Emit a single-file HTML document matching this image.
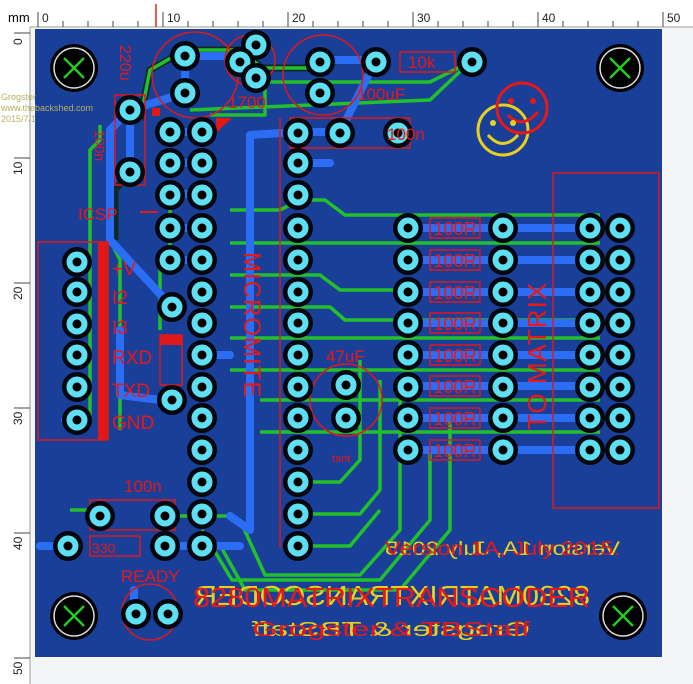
<!DOCTYPE html>
<html><head><style>
html,body{margin:0;padding:0;background:#f4f5f7;}
svg{display:block;font-family:"Liberation Sans",sans-serif;}
</style></head><body>
<svg width="693" height="684" viewBox="0 0 693 684" xmlns="http://www.w3.org/2000/svg">
<rect width="693" height="684" fill="#f4f5f7"/>
<rect x="0" y="0" width="693" height="28" fill="#fff"/>
<rect x="0" y="0" width="30" height="684" fill="#fff"/>
<line x1="30" y1="27" x2="693" y2="27" stroke="#999"/>
<line x1="30" y1="27" x2="30" y2="684" stroke="#999"/>
<text x="8" y="22" font-size="13">mm</text>
<g stroke="#444" stroke-width="1">
<line x1="38" y1="12" x2="38" y2="27"/><line x1="163" y1="12" x2="163" y2="27"/><line x1="288" y1="12" x2="288" y2="27"/><line x1="413" y1="12" x2="413" y2="27"/><line x1="538" y1="12" x2="538" y2="27"/><line x1="663" y1="12" x2="663" y2="27"/>
<line x1="63" y1="21" x2="63" y2="27"/><line x1="88" y1="21" x2="88" y2="27"/><line x1="113" y1="21" x2="113" y2="27"/><line x1="138" y1="21" x2="138" y2="27"/><line x1="188" y1="21" x2="188" y2="27"/><line x1="213" y1="21" x2="213" y2="27"/><line x1="238" y1="21" x2="238" y2="27"/><line x1="263" y1="21" x2="263" y2="27"/><line x1="313" y1="21" x2="313" y2="27"/><line x1="338" y1="21" x2="338" y2="27"/><line x1="363" y1="21" x2="363" y2="27"/><line x1="388" y1="21" x2="388" y2="27"/><line x1="438" y1="21" x2="438" y2="27"/><line x1="463" y1="21" x2="463" y2="27"/><line x1="488" y1="21" x2="488" y2="27"/><line x1="513" y1="21" x2="513" y2="27"/><line x1="563" y1="21" x2="563" y2="27"/><line x1="588" y1="21" x2="588" y2="27"/><line x1="613" y1="21" x2="613" y2="27"/><line x1="638" y1="21" x2="638" y2="27"/>
<line x1="14" y1="33" x2="30" y2="33"/><line x1="14" y1="158" x2="30" y2="158"/><line x1="14" y1="283" x2="30" y2="283"/><line x1="14" y1="408" x2="30" y2="408"/><line x1="14" y1="533" x2="30" y2="533"/><line x1="14" y1="658" x2="30" y2="658"/>
</g>
<line x1="156" y1="4" x2="156" y2="27" stroke="#d22" stroke-width="1.5"/>
<g font-size="12" fill="#222">
<text x="42" y="22">0</text><text x="167" y="22">10</text><text x="292" y="22">20</text><text x="417" y="22">30</text><text x="542" y="22">40</text><text x="667" y="22">50</text>
</g>
<g font-size="12" fill="#222">
<text transform="translate(22,45) rotate(-90)">0</text><text transform="translate(22,175) rotate(-90)">10</text><text transform="translate(22,300) rotate(-90)">20</text><text transform="translate(22,425) rotate(-90)">30</text><text transform="translate(22,550) rotate(-90)">40</text><text transform="translate(22,675) rotate(-90)">50</text>
</g>
<rect x="35" y="29" width="627" height="628" fill="#1a3f98"/>
<g font-size="9" fill="#b8b060"><text x="1" y="100">Grogster</text><text x="1" y="111">www.thebackshed.com</text><text x="1" y="122">2015/7/1</text></g>

<g fill="none" stroke-linejoin="round">
<g stroke="#0a2a2a" stroke-width="7">
<path d="M140 120 L150 70 L185 50 L240 50 L262 68 L320 68"/>
<path d="M130 172 L115 190 L115 240"/>
</g>
<g stroke="#22c02a" stroke-width="3.5">
<path d="M100 125 L100 140 L90 150 L90 420"/>
<path d="M140 120 L150 70 L185 50 L240 50 L262 68 L320 68"/>
<path d="M210 115 L265 115 L265 82 L430 82 L470 62"/>
<path d="M230 210 L280 210 L300 200 L325 200 L345 215 L600 215"/>
<path d="M230 243 L600 243"/>
<path d="M230 275 L320 275 L340 290 L600 290"/>
<path d="M230 307 L330 307 L345 320 L600 320"/>
<path d="M230 338 L600 338"/>
<path d="M230 370 L600 370"/>
<path d="M260 400 L600 400"/>
<path d="M260 432 L600 432"/>
<path d="M202 530 L232 580 L380 580 L430 520 L430 450"/>
<path d="M220 545 L245 590 L400 590 L450 530 L450 420"/>
<path d="M240 520 L265 575 L360 575 L400 530 L400 400"/>
<path d="M300 514 L360 514 L380 490 L380 380"/>
<path d="M300 482 L340 482 L360 460 L360 360"/>
<path d="M300 546 L350 546 L380 510"/>
<path d="M170 200 L170 250 L160 260 L160 330"/>
<path d="M110 240 L120 260 L120 430"/>
<path d="M165 516 L230 516"/>
<path d="M95 510 L70 510"/>
<path d="M165 546 L220 546"/>
<path d="M470 62 L430 100 L190 110"/>
</g>
<g stroke="#2b6ef5" stroke-width="8" stroke-linecap="round">
<path d="M185 56 L250 56"/>
<path d="M185 93 L185 56"/>
<path d="M185 93 L130 110 L110 130 L110 240 L172 307"/>
<path d="M130 110 L130 172"/>
<path d="M320 60 L376 60 L340 132 L298 132 L250 135 L250 530 L230 516"/>
<path d="M298 163 L330 163"/>
<path d="M120 330 L120 395 L160 400 L172 400"/>
<path d="M200 355 L230 355"/>
<path d="M408 228 L590 228"/><path d="M408 260 L590 260"/><path d="M408 292 L590 292"/><path d="M408 323 L590 323"/><path d="M408 355 L590 355"/><path d="M408 386 L590 386"/><path d="M408 418 L590 418"/><path d="M408 450 L590 450"/>
<path d="M68 546 L40 546"/>
<path d="M165 546 L240 546"/>
<path d="M134 614 L134 590"/>
<path d="M65 420 L77 420"/>
<path d="M170 132 L202 132"/><path d="M170 163 L202 163"/><path d="M170 194 L202 194"/><path d="M170 228 L202 228"/><path d="M170 260 L202 260"/>
</g>
</g>

<g fill="none" stroke="#e01818" stroke-width="1.5">
<rect x="38" y="242" width="70" height="198"/>
<rect x="553" y="173" width="106" height="335"/>
<circle cx="195" cy="75" r="43"/>
<circle cx="323" cy="75" r="40"/>
<circle cx="250" cy="60" r="25"/>
<rect x="115" y="95" width="30" height="90"/>
<rect x="400" y="52" width="55" height="20"/>
<rect x="290" y="118" width="120" height="30"/>
<circle cx="346" cy="400" r="36"/>
<rect x="90" y="500" width="85" height="30"/>
<rect x="90" y="536" width="50" height="20"/>
<circle cx="150" cy="612" r="28"/>
<path d="M280 118 L280 548"/>
<rect x="430" y="218" width="50" height="20"/><rect x="430" y="250" width="50" height="20"/><rect x="430" y="282" width="50" height="20"/><rect x="430" y="313" width="50" height="20"/><rect x="430" y="345" width="50" height="20"/><rect x="430" y="376" width="50" height="20"/><rect x="430" y="408" width="50" height="20"/><rect x="430" y="440" width="50" height="20"/>
<rect x="160" y="335" width="22" height="50"/>
</g>
<rect x="98" y="242" width="10" height="198" fill="#e01818"/>
<rect x="160" y="335" width="22" height="10" fill="#e01818"/>
<rect x="152" y="108" width="8" height="8" fill="#e01818"/>
<path d="M216 118 L232 118 L216 133 Z" fill="#e01818"/>

<defs>
<g id="p"><circle r="15" fill="#03060c"/><circle r="10.5" fill="#5ee0f2"/><circle r="4.5" fill="#000"/></g>
</defs>
<g>
<use href="#p" x="185" y="56"/><use href="#p" x="185" y="93"/>
<use href="#p" x="130" y="110"/><use href="#p" x="130" y="172"/>
<use href="#p" x="256" y="45"/><use href="#p" x="240" y="62"/><use href="#p" x="256" y="78"/>
<use href="#p" x="320" y="62"/><use href="#p" x="320" y="93"/><use href="#p" x="376" y="62"/><use href="#p" x="472" y="62"/>
<use href="#p" x="340" y="133"/><use href="#p" x="398" y="133"/>
<use href="#p" x="170" y="132"/><use href="#p" x="170" y="163"/><use href="#p" x="170" y="195"/><use href="#p" x="170" y="228"/><use href="#p" x="170" y="260"/>
<use href="#p" x="202" y="132"/><use href="#p" x="202" y="163"/><use href="#p" x="202" y="195"/><use href="#p" x="202" y="228"/><use href="#p" x="202" y="260"/><use href="#p" x="202" y="292"/><use href="#p" x="202" y="323"/><use href="#p" x="202" y="355"/><use href="#p" x="202" y="387"/><use href="#p" x="202" y="418"/><use href="#p" x="202" y="450"/><use href="#p" x="202" y="482"/><use href="#p" x="202" y="514"/><use href="#p" x="202" y="546"/>
<use href="#p" x="298" y="133"/><use href="#p" x="298" y="163"/><use href="#p" x="298" y="195"/><use href="#p" x="298" y="228"/><use href="#p" x="298" y="260"/><use href="#p" x="298" y="292"/><use href="#p" x="298" y="323"/><use href="#p" x="298" y="355"/><use href="#p" x="298" y="387"/><use href="#p" x="298" y="418"/><use href="#p" x="298" y="450"/><use href="#p" x="298" y="482"/><use href="#p" x="298" y="514"/><use href="#p" x="298" y="546"/>
<use href="#p" x="172" y="307"/><use href="#p" x="172" y="400"/>
<use href="#p" x="346" y="385"/><use href="#p" x="346" y="418"/>
<use href="#p" x="77" y="262"/><use href="#p" x="77" y="292"/><use href="#p" x="77" y="324"/><use href="#p" x="77" y="355"/><use href="#p" x="77" y="387"/><use href="#p" x="77" y="420"/>
<use href="#p" x="408" y="228"/><use href="#p" x="408" y="260"/><use href="#p" x="408" y="292"/><use href="#p" x="408" y="323"/><use href="#p" x="408" y="355"/><use href="#p" x="408" y="387"/><use href="#p" x="408" y="418"/><use href="#p" x="408" y="450"/>
<use href="#p" x="503" y="228"/><use href="#p" x="503" y="260"/><use href="#p" x="503" y="292"/><use href="#p" x="503" y="323"/><use href="#p" x="503" y="355"/><use href="#p" x="503" y="387"/><use href="#p" x="503" y="418"/><use href="#p" x="503" y="450"/>
<use href="#p" x="590" y="228"/><use href="#p" x="590" y="260"/><use href="#p" x="590" y="292"/><use href="#p" x="590" y="323"/><use href="#p" x="590" y="355"/><use href="#p" x="590" y="387"/><use href="#p" x="590" y="418"/><use href="#p" x="590" y="450"/>
<use href="#p" x="620" y="228"/><use href="#p" x="620" y="260"/><use href="#p" x="620" y="292"/><use href="#p" x="620" y="323"/><use href="#p" x="620" y="355"/><use href="#p" x="620" y="387"/><use href="#p" x="620" y="418"/><use href="#p" x="620" y="450"/>
<use href="#p" x="100" y="516"/><use href="#p" x="165" y="516"/><use href="#p" x="68" y="546"/><use href="#p" x="165" y="546"/>
<use href="#p" x="136" y="614"/><use href="#p" x="168" y="614"/>
</g>
<g>
<g transform="translate(74,68)"><circle r="24" fill="#000"/><circle r="20" fill="none" stroke="#ddd" stroke-width="1.5"/><path d="M-10 -10 L10 10 M10 -10 L-10 10" stroke="#2c2" stroke-width="2.5"/></g>
<g transform="translate(620,68)"><circle r="24" fill="#000"/><circle r="20" fill="none" stroke="#ddd" stroke-width="1.5"/><path d="M-10 -10 L10 10 M10 -10 L-10 10" stroke="#2c2" stroke-width="2.5"/></g>
<g transform="translate(74,616)"><circle r="24" fill="#000"/><circle r="20" fill="none" stroke="#ddd" stroke-width="1.5"/><path d="M-10 -10 L10 10 M10 -10 L-10 10" stroke="#2c2" stroke-width="2.5"/></g>
<g transform="translate(623,616)"><circle r="24" fill="#000"/><circle r="20" fill="none" stroke="#ddd" stroke-width="1.5"/><path d="M-10 -10 L10 10 M10 -10 L-10 10" stroke="#2c2" stroke-width="2.5"/></g>
</g>
<g fill="none" stroke-width="3">
<circle cx="503" cy="130" r="25" stroke="#e8d020"/>
<circle cx="522" cy="108" r="25" stroke="#e81818"/>
<path d="M488 135 Q503 152 518 135" stroke="#e8d020"/>
<path d="M508 115 Q522 130 538 112" stroke="#e81818"/>
</g>
<g fill="#e8d020"><circle cx="493" cy="123" r="3"/><circle cx="513" cy="123" r="3"/></g>
<g fill="#e81818"><circle cx="511" cy="101" r="3"/><circle cx="533" cy="101" r="3"/></g>

<g fill="#e81818" font-size="17">
<text x="408" y="68">10k</text>
<text x="387" y="140">100n</text>
<text x="357" y="100">100uF</text>
<text x="228" y="108">1700</text>
<text x="78" y="220">ICSP</text>
<text x="112" y="275" font-size="19">+V</text>
<text x="112" y="304" font-size="19">I2</text>
<text x="112" y="334" font-size="19">I3</text>
<text x="112" y="364" font-size="19">RXD</text>
<text x="112" y="397" font-size="19">TXD</text>
<text x="112" y="429" font-size="19">GND</text>
<text x="326" y="362">47uF</text>
<text x="124" y="492">100n</text>
<text x="121" y="582">READY</text>
<g font-size="18" text-anchor="middle">
<text x="455" y="235">100R</text><text x="455" y="267">100R</text><text x="455" y="299">100R</text><text x="455" y="330">100R</text><text x="455" y="362">100R</text><text x="455" y="393">100R</text><text x="455" y="425">100R</text><text x="455" y="457">100R</text>
</g>
<text x="92" y="553" font-size="14">330</text>
</g>
<path d="M140 212 L158 212" stroke="#e81818" stroke-width="2"/>
<text transform="translate(120,45) rotate(90)" fill="#e81818" font-size="16">220u</text>
<text transform="translate(95,130) rotate(90)" fill="#e81818" font-size="14">100n</text>
<text transform="translate(244,252) rotate(90)" fill="#e81818" font-size="24" letter-spacing="1">MICROMITE</text>
<text transform="translate(546,430) rotate(-90)" fill="#e81818" font-size="26" letter-spacing="1">TO MATRIX</text>
<text x="332" y="462" fill="#e81818" font-size="11">tant</text>
<text x="-620" y="555" fill="#e8d020" font-size="19" textLength="235" lengthAdjust="spacingAndGlyphs" transform="scale(-1,1)">Version 1A, July 2015</text>
<text x="385" y="555" fill="#e81818" font-size="19" textLength="235" lengthAdjust="spacingAndGlyphs">Version 1A, July 2015.</text>
<text x="-590" y="605" fill="#e8d020" font-size="28" textLength="395" lengthAdjust="spacingAndGlyphs" transform="scale(-1,1)">8280MATRIXTRANSCODER</text>
<text x="193" y="607" fill="#e81818" font-size="28" textLength="397" lengthAdjust="spacingAndGlyphs">8280MATRIXTRANSCODER</text>
<text x="-530" y="636" fill="#e8d020" font-size="20" textLength="278" lengthAdjust="spacingAndGlyphs" transform="scale(-1,1)">Grogster &amp; TBStaff</text>
<text x="252" y="636" fill="#e81818" font-size="20" textLength="278" lengthAdjust="spacingAndGlyphs">Grogster &amp; TBStaff</text>
</svg>
</body></html>
